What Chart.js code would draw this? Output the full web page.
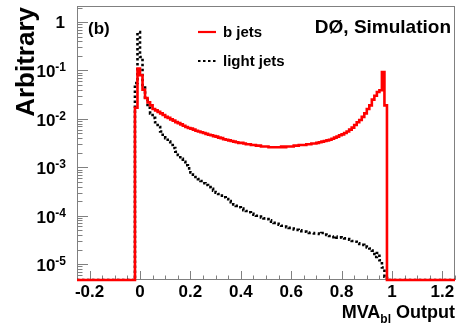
<!DOCTYPE html>
<html>
<head>
<meta charset="utf-8">
<script src="https://cdn.jsdelivr.net/npm/chart.js@4"></script>
<style>
  body { margin: 0; background: #fff; }
  canvas { display: block; }
</style>
</head>
<body>
<canvas id="myChart" width="458" height="325"></canvas>
<script>
// HISTOGRAM BINNING (lower edge of first filled bin, bin width)
const binStart = -0.02;
const binWidth = 0.01;
const xRange = [-0.25, 1.25];
const yRange = [4.7e-6, 2.15];

// b jets, one value per bin from -0.02 to 0.98
const bJets = [
  0.017, 0.11, 0.08, 0.04, 0.027, 0.022, 0.019, 0.016, 0.015, 0.014,
  0.013, 0.012, 0.011, 0.0105, 0.0098, 0.0092, 0.0086, 0.0082, 0.0077, 0.0072,
  0.0068, 0.0065, 0.0063, 0.0060, 0.0057, 0.0055, 0.0053, 0.0051, 0.0049, 0.0047,
  0.0046, 0.0044, 0.0043, 0.0041, 0.0040, 0.0038, 0.0037, 0.0036, 0.0035, 0.0034,
  0.0033, 0.0032, 0.0032, 0.0031, 0.0030, 0.0030, 0.0029, 0.0029, 0.0028, 0.0028,
  0.0027, 0.0027, 0.0027, 0.0026, 0.0026, 0.0026, 0.0026, 0.0026, 0.0027, 0.0026,
  0.0027, 0.0027, 0.0027, 0.0028, 0.0028, 0.0029, 0.0029, 0.0029, 0.0030, 0.0030,
  0.0031, 0.0031, 0.0032, 0.0033, 0.0034, 0.0035, 0.0036, 0.0037, 0.0039, 0.0041,
  0.0043, 0.0046, 0.0048, 0.0051, 0.0055, 0.0060, 0.0066, 0.0075, 0.0085, 0.0095,
  0.011, 0.013, 0.016, 0.019, 0.025, 0.030, 0.036, 0.039, 0.093, 0.019,
  0
];

// light jets, same bins
const lightJets = [
  0.055, 0.62, 0.19, 0.05, 0.025, 0.017, 0.013, 0.0105, 0.0085, 0.0068,
  0.0055, 0.0047, 0.0040, 0.0034, 0.0029, 0.0025, 0.0021, 0.0018, 0.0015, 0.0013,
  0.0011, 0.00095, 0.00078, 0.0007, 0.00063, 0.00057, 0.00052, 0.00047, 0.00043, 0.00039,
  0.00036, 0.00033, 0.00030, 0.00028, 0.00026, 0.00024, 0.00022, 0.00020, 0.00019, 0.00017,
  0.00016, 0.00015, 0.00014, 0.00013, 0.000125, 0.000118, 0.00011, 0.000105, 0.0001, 0.000096,
  0.000092, 0.000088, 0.000085, 0.00008, 0.000075, 0.000071, 0.000068, 0.000065, 0.000062, 0.00006,
  0.000058, 0.000056, 0.000054, 0.000052, 0.000051, 0.00005, 0.000048, 0.000047, 0.000045, 0.000044,
  0.000044, 0.000043, 0.000043, 0.000042, 0.000044, 0.000041, 0.00004, 0.000038, 0.000036, 0.000037,
  0.000035, 0.000036, 0.000035, 0.000034, 0.000033, 0.000032, 0.00003, 0.000029, 0.000027, 0.000026,
  0.000025, 0.000023, 0.000022, 0.000021, 0.000019, 0.000014, 0.000017, 0.000012, 0.0000085, 0.0000055,
  0
];

// AXIS TICKS
const xTicks = [-0.2, 0, 0.2, 0.4, 0.6, 0.8, 1, 1.2];
const xTickLabels = ['-0.2', '0', '0.2', '0.4', '0.6', '0.8', '1', '1.2'];
const xMinorStep = 0.05;
const yTicks = [1, 1e-1, 1e-2, 1e-3, 1e-4, 1e-5];
const yTickExp = [null, '-1', '-2', '-3', '-4', '-5'];

const seriesNames = ['b jets', 'light jets'];

// empty bins sit on the axis floor, like ROOT draws them
function toSteps(values) {
    let pts = [{ x: xRange[0], y: yRange[0] }];
    values.forEach((v, i) => {
        pts.push({ x: +(binStart + i * binWidth).toFixed(3), y: v > 0 ? v : yRange[0] });
    });
    pts.push({ x: xRange[1], y: yRange[0] });
    return pts;
}

const FONT = '"Liberation Sans", Arial, sans-serif';

// FRAME, TICKS, LABELS, LEGEND (ROOT style)
const rootStyle = {
    id: 'rootStyle',
    beforeDatasetsDraw(chart) {
        const { ctx, chartArea: a, scales } = chart;
        const xs = scales.x, ys = scales.y;
        ctx.save();
        ctx.strokeStyle = '#808080';
        ctx.lineWidth = 1;
        ctx.strokeRect(a.left + 0.5, a.top + 0.5, a.right - a.left - 1, a.bottom - a.top - 1);
        ctx.beginPath();
        // x ticks, pointing up into the frame
        for (let k = 0; ; k++) {
            const v = -0.25 + k * xMinorStep;
            if (v > xRange[1] + 1e-9) break;
            const px = Math.round(xs.getPixelForValue(v)) + 0.5;
            const major = xTicks.some(t => Math.abs(t - v) < 1e-6);
            ctx.moveTo(px, a.bottom);
            ctx.lineTo(px, a.bottom - (major ? 9 : 4.5));
        }
        // y ticks, pointing right into the frame
        for (let d = -6; d <= 0; d++) {
            for (let m = 1; m <= 9; m++) {
                const v = m * Math.pow(10, d);
                if (v < yRange[0] || v > yRange[1]) continue;
                const py = Math.round(ys.getPixelForValue(v)) + 0.5;
                ctx.moveTo(a.left, py);
                ctx.lineTo(a.left + (m === 1 ? 11 : 5.5), py);
            }
        }
        ctx.stroke();
        ctx.restore();
    },
    afterDraw(chart) {
        const { ctx, chartArea: a, scales } = chart;
        const xs = scales.x, ys = scales.y;
        ctx.save();
        ctx.fillStyle = '#000';

        // y tick labels
        yTicks.forEach((t, i) => {
            const py = ys.getPixelForValue(t);
            ctx.textBaseline = 'alphabetic';
            if (yTickExp[i] === null) {
                ctx.font = 'bold 17px ' + FONT;
                ctx.textAlign = 'right';
                ctx.fillText('1', 65, py + 6);
            } else {
                ctx.font = 'bold 12px ' + FONT;
                ctx.textAlign = 'right';
                ctx.fillText(yTickExp[i], 66, py + 1);
                const w = ctx.measureText(yTickExp[i]).width;
                ctx.font = 'bold 17px ' + FONT;
                ctx.fillText('10', 66 - w, py + 7);
            }
        });

        // x tick labels
        ctx.font = 'bold 17px ' + FONT;
        ctx.textAlign = 'center';
        xTicks.forEach((t, i) => {
            ctx.fillText(xTickLabels[i], xs.getPixelForValue(t), 297);
        });

        // x title, right aligned: MVA_bl Output
        ctx.textAlign = 'left';
        ctx.font = 'bold 18px ' + FONT;
        const wOut = ctx.measureText(' Output').width;
        const wMva = ctx.measureText('MVA').width;
        ctx.font = 'bold 12px ' + FONT;
        const wSub = ctx.measureText('bl').width;
        let x0 = 455 - wOut - wSub - wMva;
        ctx.font = 'bold 18px ' + FONT;
        ctx.fillText('MVA', x0, 318);
        ctx.font = 'bold 12px ' + FONT;
        ctx.fillText('bl', x0 + wMva, 323);
        ctx.font = 'bold 18px ' + FONT;
        ctx.fillText(' Output', x0 + wMva + wSub, 318);

        // y title
        ctx.save();
        ctx.translate(34, 0);
        ctx.rotate(-Math.PI / 2);
        ctx.font = 'bold 26px ' + FONT;
        ctx.textAlign = 'right';
        ctx.fillText('Arbitrary', -7, 0);
        ctx.restore();

        // annotations
        ctx.font = 'bold 17px ' + FONT;
        ctx.textAlign = 'left';
        ctx.textBaseline = 'middle';
        ctx.fillText('(b)', 88, 29);
        ctx.font = 'bold 19px ' + FONT;
        ctx.textAlign = 'right';
        ctx.textBaseline = 'alphabetic';
        ctx.fillText('DØ, Simulation', 451, 33);

        // legend
        const ds = chart.data.datasets;
        [32, 61].forEach((ly, i) => {
            ctx.save();
            ctx.strokeStyle = ds[i].borderColor;
            ctx.lineWidth = 2.2;
            ctx.setLineDash(ds[i].borderDash || []);
            ctx.beginPath();
            ctx.moveTo(198, ly);
            ctx.lineTo(216, ly);
            ctx.stroke();
            ctx.restore();
            ctx.font = 'bold 15px ' + FONT;
            ctx.textAlign = 'left';
            ctx.textBaseline = 'middle';
            ctx.fillText(seriesNames[i], 223, ly + 1);
        });
        ctx.restore();
    }
};

let ctx = document.getElementById('myChart').getContext('2d');
new Chart(ctx, {
    type: 'line',
    data: {
        datasets: [{
            label: seriesNames[0],
            data: toSteps(bJets),
            borderColor: '#ff0000',
            borderWidth: 2.6,
            stepped: true,
            pointRadius: 0,
            fill: false,
            clip: { left: 2, top: 2, right: 2, bottom: 3 }
        },
        {
            label: seriesNames[1],
            data: toSteps(lightJets),
            borderColor: '#000000',
            borderWidth: 2.6,
            borderDash: [2.5, 2.5],
            stepped: true,
            pointRadius: 0,
            fill: false
        }]
    },
    options: {
        responsive: false,
        animation: false,
        devicePixelRatio: 1,
        layout: { padding: { left: 77, top: 6, right: 3, bottom: 45 } },
        scales: {
            x: { type: 'linear', min: xRange[0], max: xRange[1], display: false },
            y: { type: 'logarithmic', min: yRange[0], max: yRange[1], display: false }
        },
        plugins: {
            legend: { display: false },
            tooltip: { enabled: false }
        }
    },
    plugins: [rootStyle]
});
</script>
</body>
</html>
